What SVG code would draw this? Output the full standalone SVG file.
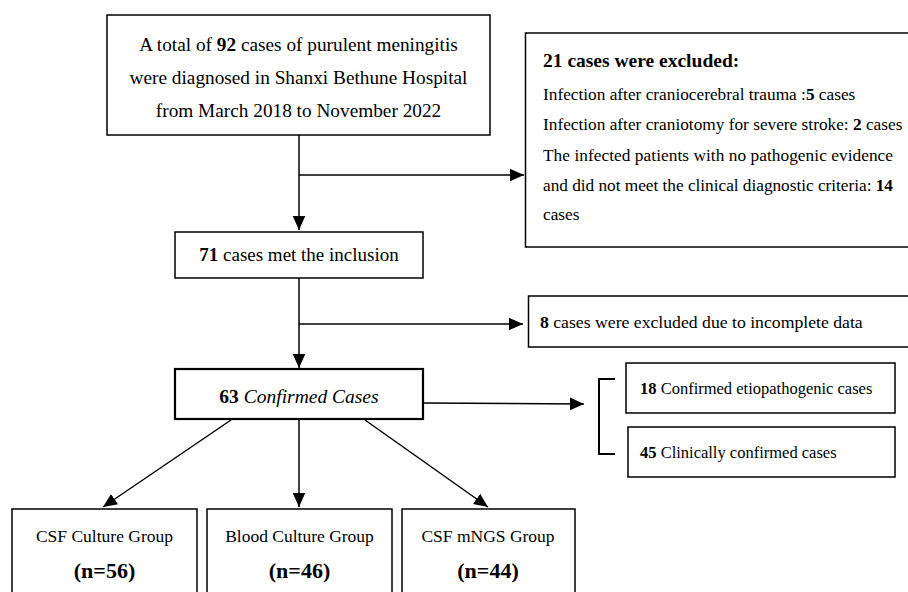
<svg xmlns="http://www.w3.org/2000/svg" width="908" height="592" viewBox="0 0 908 592">
<style>
.box{fill:#fff;stroke:#000;stroke-width:1.5}
.thick{stroke-width:2.2}
text{font-family:"Liberation Serif","Times New Roman",serif;fill:#000}
.b{font-weight:bold}
.c{text-anchor:middle}
.ln{stroke:#000;stroke-width:1.5;fill:none}
.br{stroke:#000;stroke-width:2;fill:none}
</style>
<defs>
<marker id="ahb" viewBox="0 0 10 10" refX="10" refY="5" markerWidth="14" markerHeight="14" markerUnits="userSpaceOnUse" orient="auto">
<path d="M0,0.5 L10,5 L0,9.5 z" fill="#000"/>
</marker>
</defs>
<rect width="908" height="592" fill="#fff"/>
<g id="connectors">
<line class="ln" x1="299" y1="135" x2="299" y2="230" marker-end="url(#ahb)"/>
<line class="ln" x1="299" y1="175" x2="524" y2="175" marker-end="url(#ahb)"/>
<line class="ln" x1="299" y1="278" x2="299" y2="368" marker-end="url(#ahb)"/>
<line class="ln" x1="299" y1="324" x2="523" y2="324" marker-end="url(#ahb)"/>
<line class="ln" x1="423" y1="403" x2="584" y2="404" marker-end="url(#ahb)"/>
<path class="br" d="M615,379 H599 V454 H615"/>
<line class="ln" x1="231" y1="420" x2="103" y2="507" marker-end="url(#ahb)"/>
<line class="ln" x1="299" y1="420" x2="299" y2="507" marker-end="url(#ahb)"/>
<line class="ln" x1="365" y1="420" x2="488" y2="507" marker-end="url(#ahb)"/>
</g>
<g id="n-total">
<rect class="box" x="107" y="15" width="383" height="120"/>
<text class="c" x="298.5" y="51" font-size="19.3">A total of <tspan class="b">92</tspan> cases of purulent meningitis</text>
<text class="c" x="298.5" y="84" font-size="19.3">were diagnosed in Shanxi Bethune Hospital</text>
<text class="c" x="298.5" y="117" font-size="19.3">from March 2018 to November 2022</text>
</g>
<g id="n-excluded21">
<rect class="box" x="525.5" y="33" width="390" height="214"/>
<text class="b" x="543" y="67" font-size="19.5">21 cases were excluded:</text>
<text x="543" y="100" font-size="17.3">Infection after craniocerebral trauma :<tspan class="b">5</tspan> cases</text>
<text x="543" y="130" font-size="17.3">Infection after craniotomy for severe stroke: <tspan class="b">2</tspan> cases</text>
<text x="543" y="161" font-size="17.3" textLength="350" lengthAdjust="spacing">The infected patients with no pathogenic evidence</text>
<text x="543" y="191" font-size="17.3" textLength="350" lengthAdjust="spacing">and did not meet the clinical diagnostic criteria: <tspan class="b">14</tspan></text>
<text x="543" y="220" font-size="17.3">cases</text>
</g>
<g id="n-inclusion">
<rect class="box" x="175" y="232" width="248" height="46"/>
<text class="c" x="299" y="261" font-size="19">
<tspan class="b">71</tspan> cases met the inclusion</text>
</g>
<g id="n-excluded8">
<rect class="box" x="528.5" y="296" width="390" height="51"/>
<text x="540" y="328" font-size="17.7"><tspan class="b">8</tspan> cases were excluded due to incomplete data</text>
</g>
<g id="n-confirmed">
<rect class="box thick" x="175" y="369" width="248" height="50"/>
<text class="c" x="299" y="403" font-size="19.5"><tspan class="b">63</tspan> <tspan font-style="italic">Confirmed Cases</tspan></text>
</g>
<g id="n-etio">
<rect class="box" x="626" y="363" width="269" height="50"/>
<text x="640" y="394" font-size="16.5"><tspan class="b">18</tspan> Confirmed etiopathogenic cases</text>
</g>
<g id="n-clinical">
<rect class="box" x="628" y="427" width="267" height="50"/>
<text x="640" y="458" font-size="16.5"><tspan class="b">45</tspan> Clinically confirmed cases</text>
</g>
<g id="n-csf">
<rect class="box" x="12" y="509" width="185" height="100"/>
<text class="c" x="104.5" y="542" font-size="17.5">CSF Culture Group</text>
<text class="c b" x="104.5" y="578" font-size="22">(n=56)</text>
</g>
<g id="n-blood">
<rect class="box" x="207" y="509" width="185" height="100"/>
<text class="c" x="299.5" y="542" font-size="17.5">Blood Culture Group</text>
<text class="c b" x="299.5" y="578" font-size="22">(n=46)</text>
</g>
<g id="n-mngs">
<rect class="box" x="402" y="509" width="173" height="100"/>
<text class="c" x="488" y="542" font-size="17.5">CSF mNGS Group</text>
<text class="c b" x="488" y="578" font-size="22">(n=44)</text>
</g>
</svg>
